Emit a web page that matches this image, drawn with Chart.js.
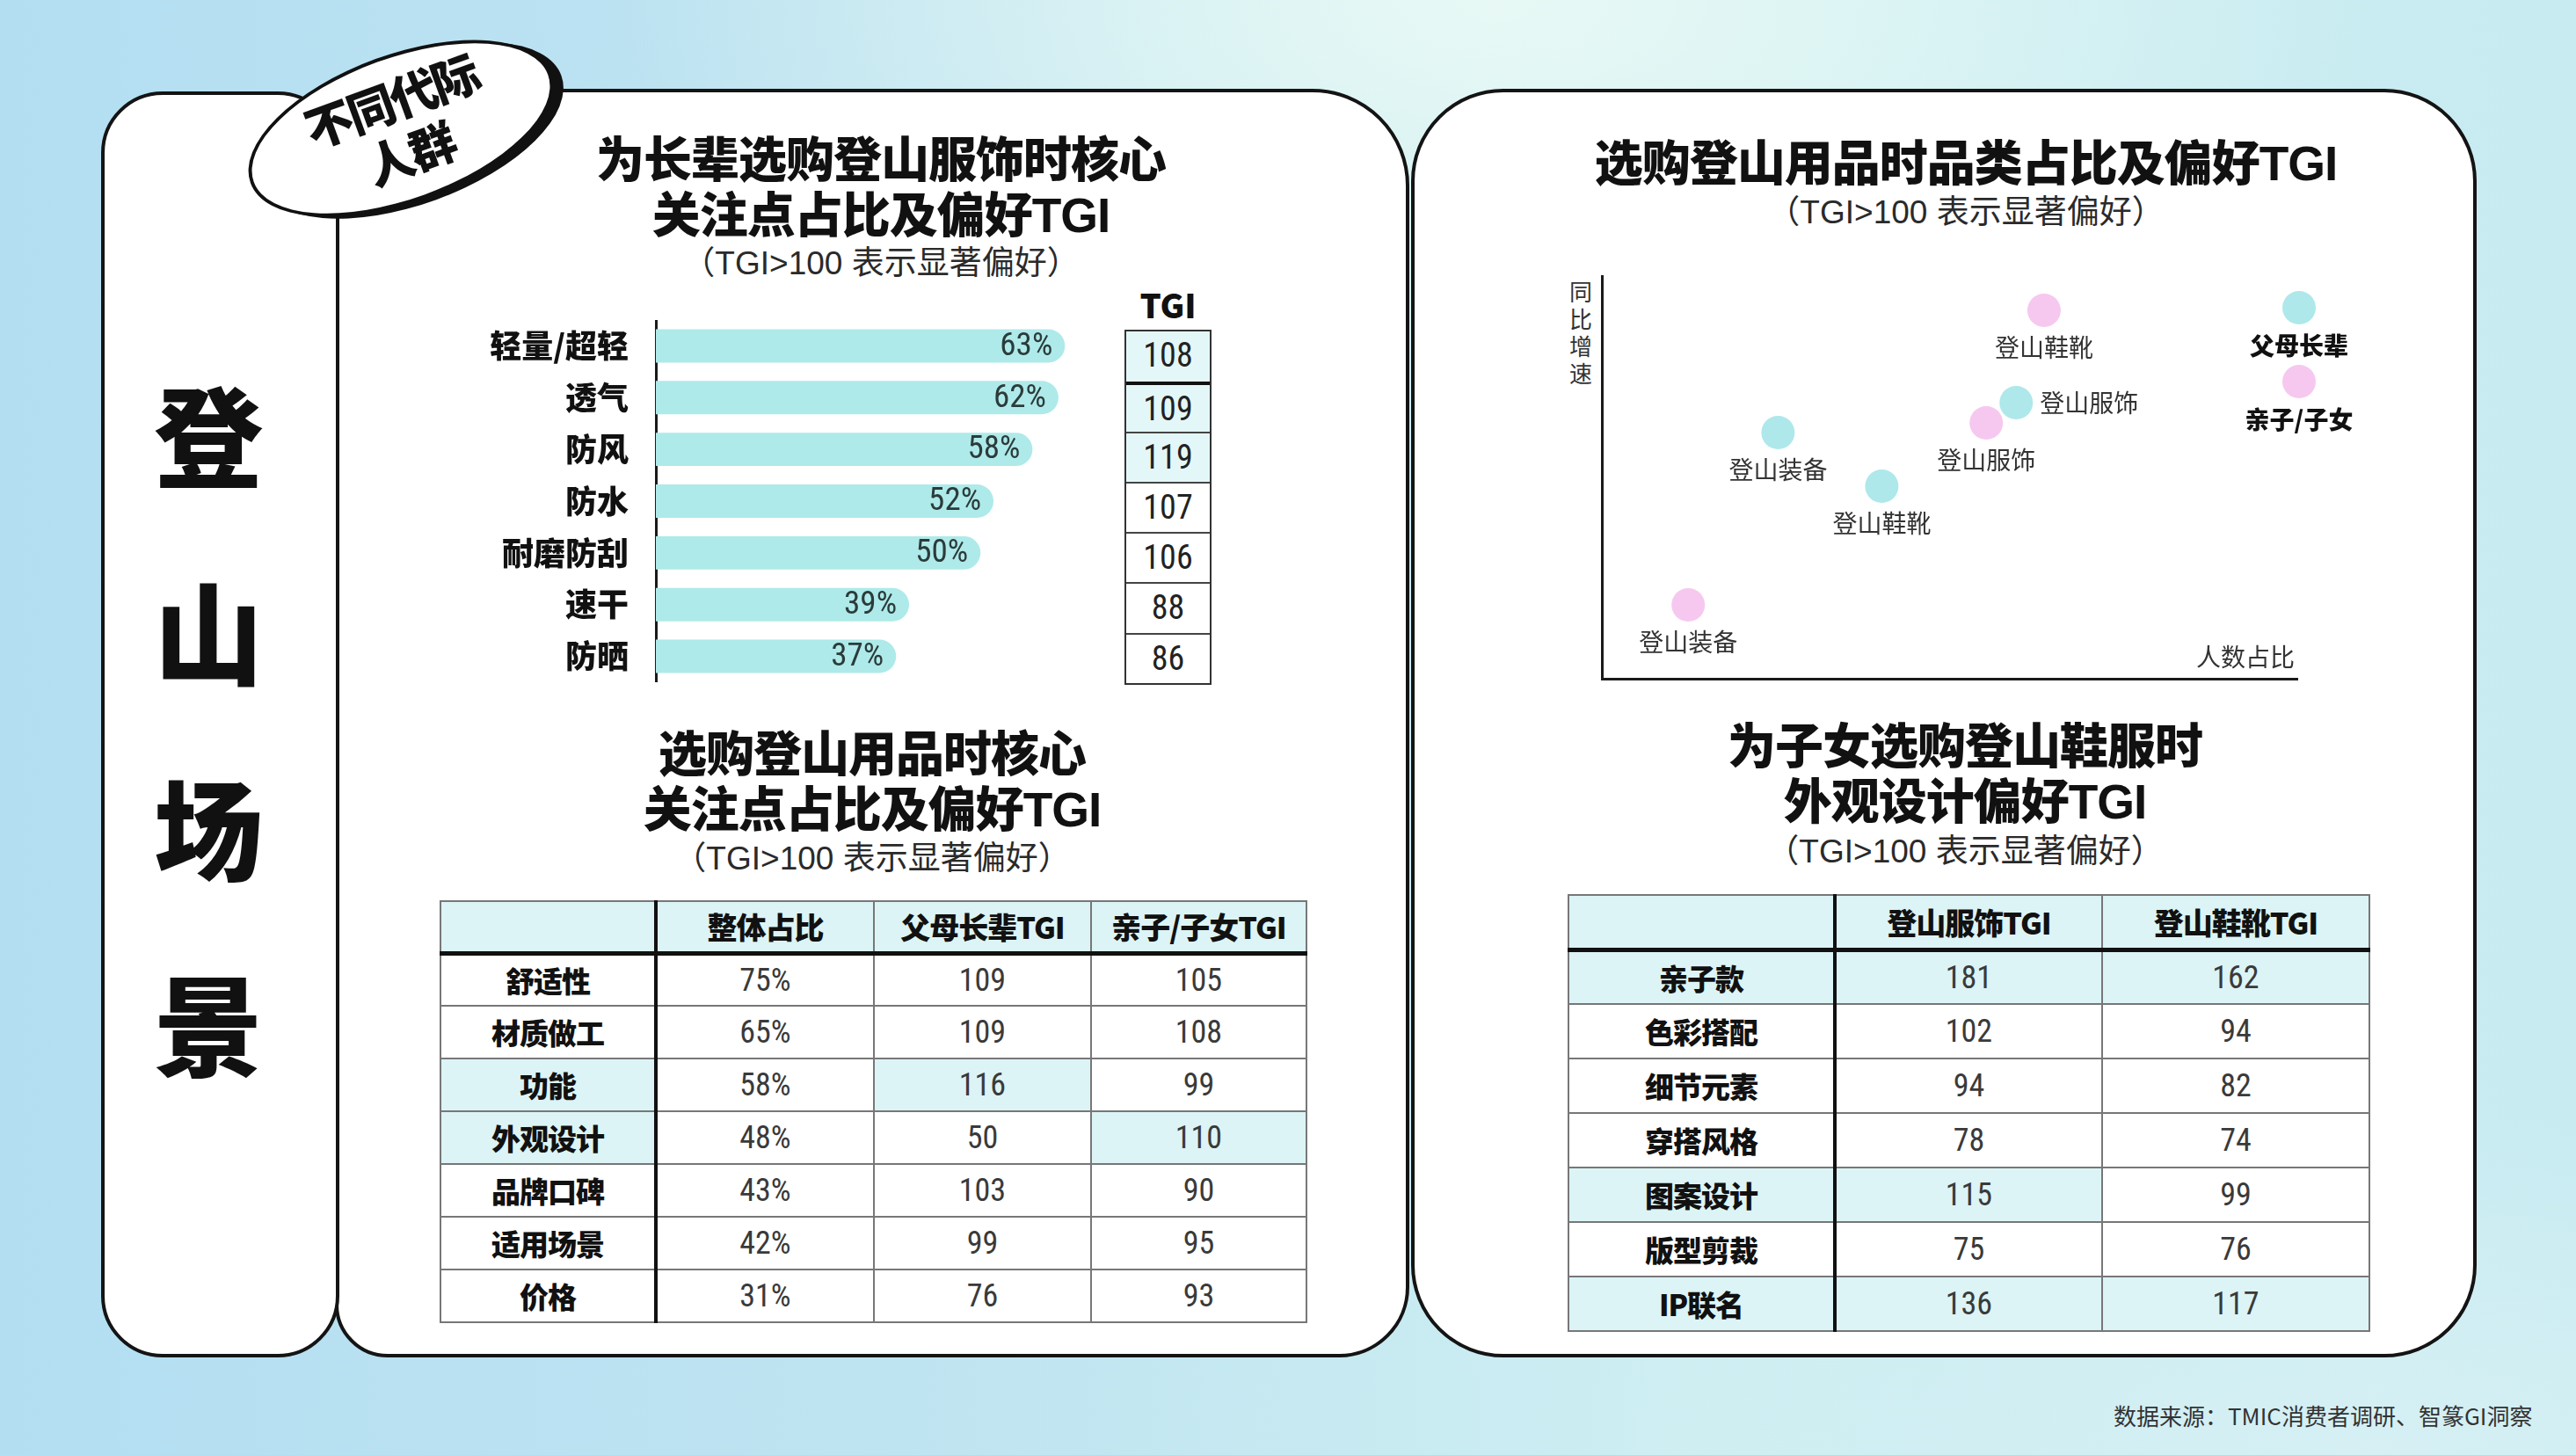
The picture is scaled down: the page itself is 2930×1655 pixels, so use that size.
<!DOCTYPE html>
<html lang="zh"><head><meta charset="utf-8">
<script src="https://cdn.jsdelivr.net/npm/chart.js@4.4.1/dist/chart.umd.min.js"></script>
<style>
*{box-sizing:border-box;}
html,body{margin:0;padding:0;}
body{width:2930px;height:1655px;position:relative;overflow:hidden;font-family:"Noto Sans CJK SC","Noto Sans",sans-serif;color:#111;
background:radial-gradient(ellipse 1000px 520px at 1700px 0px, rgba(232,249,245,1) 0%, rgba(232,249,245,0) 100%),
 radial-gradient(ellipse 900px 400px at 2700px 1655px, rgba(214,240,244,1) 0%, rgba(214,240,244,0) 100%),
 linear-gradient(90deg,#b3def2 0%,#bfe4f1 35%,#cdeef2 65%,#c7ebf1 100%);}
.panel{position:absolute;background:#fff;border:4px solid #141414;}
#pMid{left:381px;top:101px;width:1222px;height:1443px;border-radius:60px 110px 80px 60px;}
#pLeft{left:115px;top:104px;width:271px;height:1440px;border-radius:70px;}
#pRight{left:1605px;top:101px;width:1212px;height:1443px;border-radius:105px;}
#badge{position:absolute;left:274px;top:62px;width:364px;height:168px;border-radius:50%;background:#fff;border:4px solid #111;box-shadow:10px 6px 0 #111;transform:rotate(-20deg);}
#badge div{position:absolute;left:0;width:356px;height:64px;font-family:"Liberation Sans","Noto Sans CJK SC",sans-serif;font-weight:900;font-size:54px;line-height:64px;text-align:center;letter-spacing:-3px;}
.big{position:absolute;left:115px;width:244px;height:124px;text-align:center;font-weight:900;font-size:124px;line-height:124px;}
.ttl{position:absolute;width:1200px;height:63px;text-align:center;font-family:"Liberation Sans","Noto Sans CJK SC",sans-serif;font-weight:900;font-size:55px;line-height:63px;letter-spacing:-1px;}
.sub{position:absolute;width:1200px;height:44px;text-align:center;font-family:"Liberation Sans","Noto Sans CJK SC",sans-serif;font-weight:400;font-size:37px;line-height:44px;color:#2a2a2a;}
canvas{position:absolute;}
.num{font-family:"Liberation Sans Narrow","Roboto Condensed",Roboto,sans-serif;}
#tgiHead{position:absolute;left:1279px;top:322px;width:99px;text-align:center;font-weight:900;font-size:38px;line-height:48px;}
#tgiBox{position:absolute;left:1279px;top:375px;width:99px;border:2px solid #333;}
#tgiBox div{height:57.1px;line-height:55px;text-align:center;font-size:38px;color:#222;border-top:2px solid #444;}
#tgiBox div:first-child{border-top:none;}
table{position:absolute;border-collapse:collapse;table-layout:fixed;}
td,th{border:2px solid #777;text-align:center;padding:0;}
th{font-weight:900;font-size:34px;background:#dcf4f6;border-bottom:5px solid #111;letter-spacing:-1px;}
td.lab{font-weight:900;font-size:33px;border-right:4px solid #111;letter-spacing:-1px;}
th.lab{border-right:4px solid #111;}
td.val{font-size:36px;color:#3a3a3a;}
.hl{background:#dcf4f6;}
.axlab{position:absolute;font-size:28px;color:#333;font-weight:400;}
.vch{position:absolute;left:1782px;width:32px;height:31px;font-family:"Liberation Sans","Noto Sans CJK SC",sans-serif;font-size:26px;line-height:31px;text-align:center;color:#333;}
.leg{position:absolute;text-align:center;width:200px;font-weight:900;font-size:28px;line-height:34px;}
.dot{position:absolute;width:38px;height:38px;border-radius:50%;}
#foot{position:absolute;left:2404px;top:1592px;font-size:26px;line-height:36px;color:#333;}
</style></head>
<body>
<div class="panel" id="pMid"></div>
<div class="panel" id="pLeft"></div>
<div class="panel" id="pRight"></div>
<div id="badge"><div style="top:17px">不同代际</div><div style="top:81px">人群</div></div>

<div class="big" style="top:429px">登</div>
<div class="big" style="top:653px">山</div>
<div class="big" style="top:876px">场</div>
<div class="big" style="top:1099px">景</div>

<div class="ttl" style="left:402px;top:151px">为长辈选购登山服饰时核心</div>
<div class="ttl" style="left:402px;top:214px">关注点占比及偏好TGI</div>
<div class="sub" style="left:402px;top:278px">（TGI&gt;100 表示显著偏好）</div>

<div class="ttl" style="left:392px;top:827px">选购登山用品时核心</div>
<div class="ttl" style="left:392px;top:890px">关注点占比及偏好TGI</div>
<div class="sub" style="left:392px;top:955px">（TGI&gt;100 表示显著偏好）</div>

<div class="ttl" style="left:1636px;top:155px">选购登山用品时品类占比及偏好TGI</div>
<div class="sub" style="left:1636px;top:220px">（TGI&gt;100 表示显著偏好）</div>

<div class="ttl" style="left:1635px;top:818px">为子女选购登山鞋服时</div>
<div class="ttl" style="left:1635px;top:881px">外观设计偏好TGI</div>
<div class="sub" style="left:1635px;top:947px">（TGI&gt;100 表示显著偏好）</div>

<canvas id="barChart" width="723" height="412" style="left:540px;top:364px"></canvas>
<div id="tgiHead">TGI</div>
<div id="tgiBox" class="num"></div>

<table id="t1" style="left:500px;top:1024px;width:985px"></table>
<table id="t2" style="left:1783px;top:1017px;width:911px"></table>

<canvas id="scatter" width="795" height="462" style="left:1819px;top:313px"></canvas>
<div id="yTitle"></div>
<div class="axlab" style="left:2498px;top:726px;">人数占比</div>
<div id="legendBox"></div>

<div id="foot">数据来源：TMIC消费者调研、智篆GI洞察</div>

<script>
// ---------- data ----------
const barCategories = ['轻量/超轻','透气','防风','防水','耐磨防刮','速干','防晒'];
const barShares = [63,62,58,52,50,39,37];
const barTGI = [108,109,119,107,106,88,86];

const t1Rows = ['舒适性','材质做工','功能','外观设计','品牌口碑','适用场景','价格'];
const t1Cols = ['整体占比','父母长辈TGI','亲子/子女TGI'];
const t1Share = [75,65,58,48,43,42,31];
const t1ParentTGI = [109,109,116,50,103,99,76];
const t1ChildTGI = [105,108,99,110,90,95,93];

const scatterCategories = ['登山装备','登山鞋靴','登山服饰'];
const scatterSeries = ['父母长辈','亲子/子女'];
const scatterYTitle = '同比增速';
const parentShare = [25.3,40.2,59.5];
const parentGrowth = [61.0,47.7,68.4];
const childShare = [12.4,63.5,55.2];
const childGrowth = [18.3,91.3,63.4];

const t2Rows = ['亲子款','色彩搭配','细节元素','穿搭风格','图案设计','版型剪裁','IP联名'];
const t2Cols = ['登山服饰TGI','登山鞋靴TGI'];
const t2Apparel = [181,102,94,78,115,75,136];
const t2Shoes = [162,94,82,74,99,76,117];

// ---------- styles ----------
const CYAN = '#aee8ea', PINK = '#f6c8ef', BAR = '#aeeae9';
const NUMFONT = '"Liberation Sans Narrow","Roboto Condensed",Roboto,sans-serif';
const CJK = '"Noto Sans CJK SC",sans-serif';

// vertical y title, one character per line
(function(){
  const yt=document.getElementById('yTitle');
  [...scatterYTitle].forEach((ch,i)=>{
    const d=document.createElement('div'); d.className='vch'; d.textContent=ch;
    d.style.top=(318+i*31)+'px'; yt.appendChild(d);
  });
})();

// TGI column
const tgiBox = document.getElementById('tgiBox');
barTGI.forEach((v,i)=>{
  const d=document.createElement('div'); d.textContent=v;
  if(v>=108) d.style.background='#e4f7f8';
  if(i===1) d.style.borderTop='4px solid #111';
  tgiBox.appendChild(d);
});

// Table 1
(function(){
  const t=document.getElementById('t1');
  const widths=[245,248,247,245];
  let h='<colgroup>'+widths.map(w=>`<col style="width:${w}px">`).join('')+'</colgroup>';
  h+='<tr style="height:59px"><th class="lab"></th>'+t1Cols.map(c=>`<th>${c}</th>`).join('')+'</tr>';
  const pMax=Math.max(...t1ParentTGI), cMax=Math.max(...t1ChildTGI);
  t1Rows.forEach((r,i)=>{
    const hp=t1ParentTGI[i]===pMax, hc=t1ChildTGI[i]===cMax;
    h+=`<tr style="height:60px"><td class="lab${(hp||hc)?' hl':''}">${r}</td>`+
      `<td class="val num">${t1Share[i]}%</td>`+
      `<td class="val num${hp?' hl':''}">${t1ParentTGI[i]}</td>`+
      `<td class="val num${hc?' hl':''}">${t1ChildTGI[i]}</td></tr>`;
  });
  t.innerHTML=h;
})();

// Table 2
(function(){
  const t=document.getElementById('t2');
  const widths=[303,304,304];
  let h='<colgroup>'+widths.map(w=>`<col style="width:${w}px">`).join('')+'</colgroup>';
  h+='<tr style="height:62px"><th class="lab"></th>'+t2Cols.map(c=>`<th>${c}</th>`).join('')+'</tr>';
  t2Rows.forEach((r,i)=>{
    const ha=t2Apparel[i]>110, hs=t2Shoes[i]>110;
    h+=`<tr style="height:62px"><td class="lab${(ha||hs)?' hl':''}">${r}</td>`+
      `<td class="val num${ha?' hl':''}">${t2Apparel[i]}</td>`+
      `<td class="val num${hs?' hl':''}">${t2Shoes[i]}</td></tr>`;
  });
  t.innerHTML=h;
})();

// Legend for scatter
(function(){
  const lb=document.getElementById('legendBox');
  const items=[{c:CYAN,t:scatterSeries[0],y:350},{c:PINK,t:scatterSeries[1],y:434}];
  items.forEach(it=>{
    const d=document.createElement('div'); d.className='dot';
    d.style.background=it.c; d.style.left=(2615-19)+'px'; d.style.top=(it.y-19)+'px';
    lb.appendChild(d);
    const l=document.createElement('div'); l.className='leg'; l.textContent=it.t;
    l.style.left=(2615-100)+'px'; l.style.top=(it.y+25)+'px';
    lb.appendChild(l);
  });
})();

function draw(){
  // Bar chart
  const barLabels={id:'barLabels',afterDatasetsDraw(chart){
    const ctx=chart.ctx; const meta=chart.getDatasetMeta(0); const ys=chart.scales.y;
    ctx.save();
    ctx.textBaseline='middle'; ctx.textAlign='right';
    ctx.font='400 37px '+NUMFONT; ctx.fillStyle='#2b3b3b';
    meta.data.forEach((b,i)=>ctx.fillText(barShares[i]+'%', b.x-14, b.y+1));
    ctx.font='900 36px '+CJK; ctx.fillStyle='#111';
    barCategories.forEach((c,i)=>ctx.fillText(c, ys.right-31, ys.getPixelForTick(i)));
    ctx.restore();
  }};
  new Chart(document.getElementById('barChart'),{
    type:'bar',
    data:{labels:barCategories,datasets:[{data:barShares,backgroundColor:BAR,borderRadius:100,borderSkipped:'start',barPercentage:0.645,categoryPercentage:1}]},
    options:{indexAxis:'y',responsive:false,animation:false,devicePixelRatio:1,layout:{padding:0,autoPadding:false},
      plugins:{legend:{display:false},tooltip:{enabled:false}},
      scales:{
        x:{min:0,max:70,display:false},
        y:{grid:{display:false,drawTicks:false},border:{display:true,color:'#1a1a1a',width:3},
           ticks:{display:false},
           afterFit:s=>{s.width=206;}}
      }},
    plugins:[barLabels]
  });

  // Scatter
  const pointLabels={id:'pointLabels',afterDatasetsDraw(chart){
    const ctx=chart.ctx; ctx.save();
    ctx.font='400 28px '+CJK; ctx.fillStyle='#333'; ctx.textBaseline='middle';
    chart.data.datasets.forEach((ds,di)=>{
      chart.getDatasetMeta(di).data.forEach((p,i)=>{
        const right = (di===0 && i===2);
        if(right){ctx.textAlign='left'; ctx.fillText(scatterCategories[i], p.x+27, p.y);}
        else {ctx.textAlign='center'; ctx.fillText(scatterCategories[i], p.x, p.y+42);}
      });
    });
    ctx.restore();
  }};
  const mk=(xs,ys)=>xs.map((x,i)=>({x:x,y:ys[i]}));
  new Chart(document.getElementById('scatter'),{
    type:'scatter',
    data:{datasets:[
      {label:scatterSeries[0],data:mk(parentShare,parentGrowth),backgroundColor:CYAN,borderWidth:0,pointRadius:19,pointHoverRadius:19,clip:false},
      {label:scatterSeries[1],data:mk(childShare,childGrowth),backgroundColor:PINK,borderWidth:0,pointRadius:19,pointHoverRadius:19,clip:false}
    ]},
    options:{responsive:false,animation:false,devicePixelRatio:1,layout:{padding:{left:3,bottom:3,top:0,right:0},autoPadding:false},
      plugins:{legend:{display:false},tooltip:{enabled:false}},
      scales:{
        x:{min:0,max:100,grid:{display:false,drawTicks:false},ticks:{display:false},border:{display:true,color:'#1a1a1a',width:3},afterFit:s=>{s.height=0;}},
        y:{min:0,max:100,grid:{display:false,drawTicks:false},ticks:{display:false},border:{display:true,color:'#1a1a1a',width:3},afterFit:s=>{s.width=0;}}
      }},
    plugins:[pointLabels]
  });
}
if(document.fonts && document.fonts.load){
  Promise.all([document.fonts.load('900 36px "Noto Sans CJK SC"'),document.fonts.load('400 27px "Noto Sans CJK SC"')]).then(draw,draw);
} else draw();
</script>
</body></html>
